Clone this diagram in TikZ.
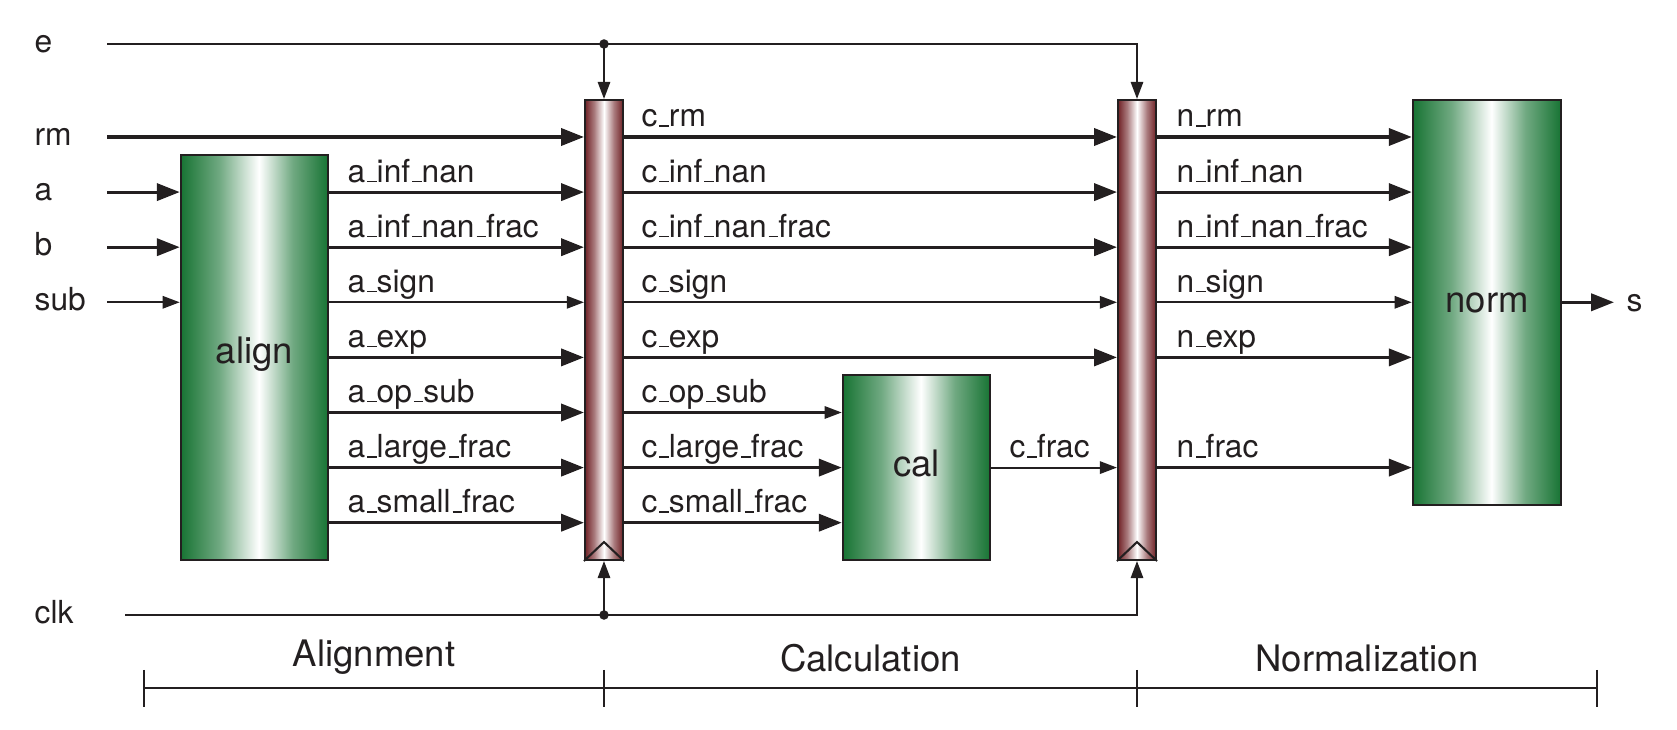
\documentclass[tikz,border=0pt]{standalone}
\usepackage{fontspec}
\setmainfont{TeX Gyre Heros}
\usetikzlibrary{arrows.meta,fit,calc}
\definecolor{ink}{RGB}{35,31,32}
\definecolor{dgreen}{RGB}{24,116,52}
\definecolor{dred}{RGB}{112,34,38}
\pgfdeclarehorizontalshading{greenbar}{100bp}{color(0bp)=(dgreen); color(25bp)=(dgreen); color(38bp)=(dgreen!62!white); color(51.5bp)=(white); color(63bp)=(dgreen!62!white); color(75bp)=(dgreen); color(100bp)=(dgreen)}
\pgfdeclarehorizontalshading{redbar}{100bp}{color(0bp)=(dred); color(25bp)=(dred); color(37bp)=(dred!60!white); color(50bp)=(white); color(63bp)=(dred!60!white); color(75bp)=(dred); color(100bp)=(dred)}
\newcommand\us{\leavevmode\kern.06em\vbox{\hrule height .05em width .3em}}
\begin{document}
\begin{tikzpicture}[x=0.315pt, y=-0.315pt,
  greenbox/.style={draw=ink, line width=0.8pt, shade, shading=greenbar, inner sep=0pt},
  regbox/.style={draw=ink, line width=0.65pt, shade, shading=redbar, inner sep=0pt},
  bus/.style={draw=ink, line width=1pt, -{Triangle[length=7.2pt,width=5.4pt]}},
  wire/.style={draw=ink, line width=0.65pt, -{Triangle[length=5.4pt,width=3.9pt]}},
  plain/.style={draw=ink, line width=0.65pt},
  sig/.style={inner sep=0pt, anchor=base west, font=\fontsize{10}{12}\selectfont, text=ink},
  boxlabel/.style={inner sep=0pt, anchor=base, font=\fontsize{11.5}{14}\selectfont, text=ink},
  jdot/.style={circle, fill=ink, inner sep=0pt, minimum size=3pt}]
\useasboundingbox (0,0) rectangle (1677,730);

% rows
\coordinate (Re) at (0,44);
\coordinate (Rrm) at (0,137);
\coordinate (R1) at (0,192.1);
\coordinate (R2) at (0,247.2);
\coordinate (R3) at (0,302.3);
\coordinate (R4) at (0,357.4);
\coordinate (R5) at (0,412.5);
\coordinate (R6) at (0,467.6);
\coordinate (R7) at (0,522.7);
\coordinate (Rclk) at (0,615);

% blocks
\node[greenbox, fit={(181,155) (328,560)}] (align) {};
\node[regbox, fit={(585,100) (623,560)}] (r1) {};
\node[greenbox, fit={(843,375) (990,560)}] (cal) {};
\node[regbox, fit={(1118,100) (1156,560)}] (r2) {};
\node[greenbox, fit={(1413,100) (1561,505)}] (norm) {};

\node[boxlabel] (alignlbl) at (254.5,364) {align};
\node[boxlabel] (callbl) at (916.5,477) {cal};
\node[boxlabel] (normlbl) at (1487,312.5) {norm};

% clock triangles
\draw[plain] (r1.south west) -- ($(r1.south)+(0,-19)$) -- (r1.south east);
\draw[plain] (r2.south west) -- ($(r2.south)+(0,-19)$) -- (r2.south east);

% input labels
\node[sig] (le) at (34,53) {e};
\node[sig] (lrm) at (34,145.5) {rm};
\node[sig] (la) at (34,200.5) {a};
\node[sig] (lb) at (34,255.5) {b};
\node[sig] (lsub) at (34,310.5) {sub};
\node[sig] (lclk) at (34,624) {clk};

\coordinate (ein) at (107,44);
\coordinate (rmin) at (107,137);
\coordinate (ain) at (107,192.1);
\coordinate (bin) at (107,247.2);
\coordinate (subin) at (107,302.3);
\coordinate (clkin) at (125,615);

% e and clk distribution
\coordinate (ej) at (r1.north |- Re);
\coordinate (ec) at (r2.north |- Re);
\coordinate (cj) at (r1.south |- Rclk);
\coordinate (cc) at (r2.south |- Rclk);
\draw[wire] (ein) -- (ec) -- (r2.north);
\draw[wire] (ej) -- (r1.north);
\draw[wire] (clkin) -- (cc) -- (r2.south);
\draw[wire] (cj) -- (r1.south);
\node[jdot] (dote) at (ej) {};
\node[jdot] (dotc) at (cj) {};

% inputs
\draw[bus] (rmin) -- (r1.west |- Rrm);
\draw[bus] (ain) -- (align.west |- R1);
\draw[bus] (bin) -- (align.west |- R2);
\draw[wire] (subin) -- (align.west |- R3);

% alignment stage
\draw[bus] (align.east |- R1) -- (r1.west |- R1);
\draw[bus] (align.east |- R2) -- (r1.west |- R2);
\draw[wire] (align.east |- R3) -- (r1.west |- R3);
\draw[bus] (align.east |- R4) -- (r1.west |- R4);
\draw[bus] (align.east |- R5) -- (r1.west |- R5);
\draw[bus] (align.east |- R6) -- (r1.west |- R6);
\draw[bus] (align.east |- R7) -- (r1.west |- R7);
\node[sig] (a1) at (347,182.1) {a\us inf\us nan};
\node[sig] (a2) at (347,237.2) {a\us inf\us nan\us frac};
\node[sig] (a3) at (347,292.3) {a\us sign};
\node[sig] (a4) at (347,347.4) {a\us exp};
\node[sig] (a5) at (347,402.5) {a\us op\us sub};
\node[sig] (a6) at (347,457.6) {a\us large\us frac};
\node[sig] (a7) at (347,512.7) {a\us small\us frac};

% calculation stage
\draw[bus] (r1.east |- Rrm) -- (r2.west |- Rrm);
\draw[bus] (r1.east |- R1) -- (r2.west |- R1);
\draw[bus] (r1.east |- R2) -- (r2.west |- R2);
\draw[wire] (r1.east |- R3) -- (r2.west |- R3);
\draw[bus] (r1.east |- R4) -- (r2.west |- R4);
\draw[wire] (r1.east |- R5) -- (cal.west |- R5);
\draw[bus] (r1.east |- R6) -- (cal.west |- R6);
\draw[bus] (r1.east |- R7) -- (cal.west |- R7);
\draw[wire] (cal.east |- R6) -- (r2.west |- R6);
\node[sig] (c0) at (641,127) {c\us rm};
\node[sig] (c1) at (641,182.1) {c\us inf\us nan};
\node[sig] (c2) at (641,237.2) {c\us inf\us nan\us frac};
\node[sig] (c3) at (641,292.3) {c\us sign};
\node[sig] (c4) at (641,347.4) {c\us exp};
\node[sig] (c5) at (641,402.5) {c\us op\us sub};
\node[sig] (c6) at (641,457.6) {c\us large\us frac};
\node[sig] (c7) at (641,512.7) {c\us small\us frac};
\node[sig] (cf) at (1009,457.6) {c\us frac};

% normalization stage
\draw[bus] (r2.east |- Rrm) -- (norm.west |- Rrm);
\draw[bus] (r2.east |- R1) -- (norm.west |- R1);
\draw[bus] (r2.east |- R2) -- (norm.west |- R2);
\draw[wire] (r2.east |- R3) -- (norm.west |- R3);
\draw[bus] (r2.east |- R4) -- (norm.west |- R4);
\draw[bus] (r2.east |- R6) -- (norm.west |- R6);
\node[sig] (n0) at (1176,127) {n\us rm};
\node[sig] (n1) at (1176,182.1) {n\us inf\us nan};
\node[sig] (n2) at (1176,237.2) {n\us inf\us nan\us frac};
\node[sig] (n3) at (1176,292.3) {n\us sign};
\node[sig] (n4) at (1176,347.4) {n\us exp};
\node[sig] (n6) at (1176,457.6) {n\us frac};

% output
\coordinate (sout) at (1614,302.3);
\draw[bus] (norm.east |- R3) -- (sout);
\node[sig] (ls) at (1626,311.5) {s};

% stage scale
\coordinate (t0) at (144,688);
\coordinate (t1) at (604,688);
\coordinate (t2) at (1137,688);
\coordinate (t3) at (1597,688);
\draw[plain, line width=0.75pt] (t0) -- (t3);
\foreach \t in {t0,t1,t2,t3} \draw[plain, line width=0.75pt] ($(\t)+(0,-18)$) -- ($(\t)+(0,19)$);
\node[boxlabel] (ph1) at (374,667) {Alignment};
\node[boxlabel] (ph2) at (870.5,672) {Calculation};
\node[boxlabel] (ph3) at (1367,672) {Normalization};
\end{tikzpicture}
\end{document}
